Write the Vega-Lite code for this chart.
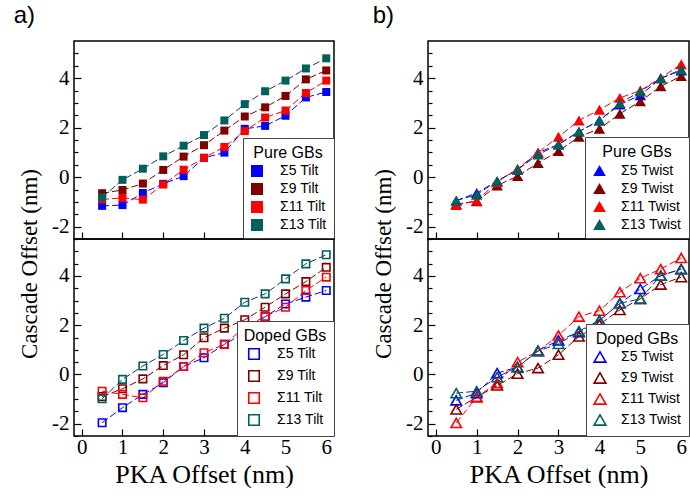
{
  "$schema": "https://vega.github.io/schema/vega-lite/v6.json",
  "padding": {"left": 13, "top": 4, "right": 0, "bottom": 0},
  "background": "white",
  "config": {
    "view": {"stroke": "black", "strokeWidth": 1.5},
    "axis": {"domain": false, "grid": false, "tickColor": "black", "tickWidth": 1.2, "minExtent": 0, "labelOverlap": false},
    "axisY": {"labelOverlap": false},
    "axisX": {"labelOverlap": false}
  },
  "datasets": {
    "tiltPure": [
      {"x": 0.5, "y": -1.16, "s": "Σ5 Tilt"}, {"x": 1.0, "y": -1.13, "s": "Σ5 Tilt"}, {"x": 1.5, "y": -0.64, "s": "Σ5 Tilt"}, {"x": 2.0, "y": -0.27, "s": "Σ5 Tilt"}, {"x": 2.5, "y": 0.04, "s": "Σ5 Tilt"}, {"x": 3.0, "y": 0.78, "s": "Σ5 Tilt"}, {"x": 3.5, "y": 0.99, "s": "Σ5 Tilt"}, {"x": 4.0, "y": 1.95, "s": "Σ5 Tilt"}, {"x": 4.5, "y": 2.07, "s": "Σ5 Tilt"}, {"x": 5.0, "y": 2.48, "s": "Σ5 Tilt"}, {"x": 5.5, "y": 3.22, "s": "Σ5 Tilt"}, {"x": 6.0, "y": 3.44, "s": "Σ5 Tilt"},
      {"x": 0.5, "y": -0.65, "s": "Σ9 Tilt"}, {"x": 1.0, "y": -0.52, "s": "Σ9 Tilt"}, {"x": 1.5, "y": -0.26, "s": "Σ9 Tilt"}, {"x": 2.0, "y": 0.29, "s": "Σ9 Tilt"}, {"x": 2.5, "y": 0.83, "s": "Σ9 Tilt"}, {"x": 3.0, "y": 1.29, "s": "Σ9 Tilt"}, {"x": 3.5, "y": 1.88, "s": "Σ9 Tilt"}, {"x": 4.0, "y": 2.45, "s": "Σ9 Tilt"}, {"x": 4.5, "y": 2.82, "s": "Σ9 Tilt"}, {"x": 5.0, "y": 3.28, "s": "Σ9 Tilt"}, {"x": 5.5, "y": 3.95, "s": "Σ9 Tilt"}, {"x": 6.0, "y": 4.31, "s": "Σ9 Tilt"},
      {"x": 0.5, "y": -0.9, "s": "Σ11 Tilt"}, {"x": 1.0, "y": -0.84, "s": "Σ11 Tilt"}, {"x": 1.5, "y": -0.91, "s": "Σ11 Tilt"}, {"x": 2.0, "y": -0.3, "s": "Σ11 Tilt"}, {"x": 2.5, "y": 0.3, "s": "Σ11 Tilt"}, {"x": 3.0, "y": 0.78, "s": "Σ11 Tilt"}, {"x": 3.5, "y": 1.22, "s": "Σ11 Tilt"}, {"x": 4.0, "y": 1.86, "s": "Σ11 Tilt"}, {"x": 4.5, "y": 2.41, "s": "Σ11 Tilt"}, {"x": 5.0, "y": 2.69, "s": "Σ11 Tilt"}, {"x": 5.5, "y": 3.4, "s": "Σ11 Tilt"}, {"x": 6.0, "y": 3.9, "s": "Σ11 Tilt"},
      {"x": 0.5, "y": -0.82, "s": "Σ13 Tilt"}, {"x": 1.0, "y": -0.11, "s": "Σ13 Tilt"}, {"x": 1.5, "y": 0.34, "s": "Σ13 Tilt"}, {"x": 2.0, "y": 0.84, "s": "Σ13 Tilt"}, {"x": 2.5, "y": 1.27, "s": "Σ13 Tilt"}, {"x": 3.0, "y": 1.7, "s": "Σ13 Tilt"}, {"x": 3.5, "y": 2.29, "s": "Σ13 Tilt"}, {"x": 4.0, "y": 2.95, "s": "Σ13 Tilt"}, {"x": 4.5, "y": 3.47, "s": "Σ13 Tilt"}, {"x": 5.0, "y": 3.9, "s": "Σ13 Tilt"}, {"x": 5.5, "y": 4.39, "s": "Σ13 Tilt"}, {"x": 6.0, "y": 4.8, "s": "Σ13 Tilt"}
    ],
    "tiltDoped": [
      {"x": 0.5, "y": -1.96, "s": "Σ5 Tilt"}, {"x": 1.0, "y": -1.35, "s": "Σ5 Tilt"}, {"x": 1.5, "y": -0.81, "s": "Σ5 Tilt"}, {"x": 2.0, "y": -0.34, "s": "Σ5 Tilt"}, {"x": 2.5, "y": 0.32, "s": "Σ5 Tilt"}, {"x": 3.0, "y": 0.68, "s": "Σ5 Tilt"}, {"x": 3.5, "y": 1.22, "s": "Σ5 Tilt"}, {"x": 4.0, "y": 1.69, "s": "Σ5 Tilt"}, {"x": 4.5, "y": 2.35, "s": "Σ5 Tilt"}, {"x": 5.0, "y": 2.86, "s": "Σ5 Tilt"}, {"x": 5.5, "y": 3.14, "s": "Σ5 Tilt"}, {"x": 6.0, "y": 3.41, "s": "Σ5 Tilt"},
      {"x": 0.5, "y": -0.9, "s": "Σ9 Tilt"}, {"x": 1.0, "y": -0.58, "s": "Σ9 Tilt"}, {"x": 1.5, "y": -0.18, "s": "Σ9 Tilt"}, {"x": 2.0, "y": 0.36, "s": "Σ9 Tilt"}, {"x": 2.5, "y": 0.8, "s": "Σ9 Tilt"}, {"x": 3.0, "y": 1.49, "s": "Σ9 Tilt"}, {"x": 3.5, "y": 1.88, "s": "Σ9 Tilt"}, {"x": 4.0, "y": 2.22, "s": "Σ9 Tilt"}, {"x": 4.5, "y": 2.73, "s": "Σ9 Tilt"}, {"x": 5.0, "y": 3.27, "s": "Σ9 Tilt"}, {"x": 5.5, "y": 3.77, "s": "Σ9 Tilt"}, {"x": 6.0, "y": 4.35, "s": "Σ9 Tilt"},
      {"x": 0.5, "y": -0.68, "s": "Σ11 Tilt"}, {"x": 1.0, "y": -0.81, "s": "Σ11 Tilt"}, {"x": 1.5, "y": -0.95, "s": "Σ11 Tilt"}, {"x": 2.0, "y": -0.28, "s": "Σ11 Tilt"}, {"x": 2.5, "y": 0.32, "s": "Σ11 Tilt"}, {"x": 3.0, "y": 0.88, "s": "Σ11 Tilt"}, {"x": 3.5, "y": 1.22, "s": "Σ11 Tilt"}, {"x": 4.0, "y": 1.92, "s": "Σ11 Tilt"}, {"x": 4.5, "y": 2.35, "s": "Σ11 Tilt"}, {"x": 5.0, "y": 2.73, "s": "Σ11 Tilt"}, {"x": 5.5, "y": 3.41, "s": "Σ11 Tilt"}, {"x": 6.0, "y": 3.95, "s": "Σ11 Tilt"},
      {"x": 0.5, "y": -0.99, "s": "Σ13 Tilt"}, {"x": 1.0, "y": -0.2, "s": "Σ13 Tilt"}, {"x": 1.5, "y": 0.34, "s": "Σ13 Tilt"}, {"x": 2.0, "y": 0.81, "s": "Σ13 Tilt"}, {"x": 2.5, "y": 1.38, "s": "Σ13 Tilt"}, {"x": 3.0, "y": 1.88, "s": "Σ13 Tilt"}, {"x": 3.5, "y": 2.28, "s": "Σ13 Tilt"}, {"x": 4.0, "y": 2.93, "s": "Σ13 Tilt"}, {"x": 4.5, "y": 3.27, "s": "Σ13 Tilt"}, {"x": 5.0, "y": 3.88, "s": "Σ13 Tilt"}, {"x": 5.5, "y": 4.49, "s": "Σ13 Tilt"}, {"x": 6.0, "y": 4.86, "s": "Σ13 Tilt"}
    ],
    "twistPure": [
      {"x": 0.5, "y": -0.95, "s": "Σ5 Twist"}, {"x": 1.0, "y": -0.64, "s": "Σ5 Twist"}, {"x": 1.5, "y": -0.16, "s": "Σ5 Twist"}, {"x": 2.0, "y": 0.3, "s": "Σ5 Twist"}, {"x": 2.5, "y": 0.99, "s": "Σ5 Twist"}, {"x": 3.0, "y": 1.32, "s": "Σ5 Twist"}, {"x": 3.5, "y": 1.84, "s": "Σ5 Twist"}, {"x": 4.0, "y": 2.29, "s": "Σ5 Twist"}, {"x": 4.5, "y": 2.93, "s": "Σ5 Twist"}, {"x": 5.0, "y": 3.31, "s": "Σ5 Twist"}, {"x": 5.5, "y": 3.99, "s": "Σ5 Twist"}, {"x": 6.0, "y": 4.31, "s": "Σ5 Twist"},
      {"x": 0.5, "y": -1.09, "s": "Σ9 Twist"}, {"x": 1.0, "y": -0.98, "s": "Σ9 Twist"}, {"x": 1.5, "y": -0.34, "s": "Σ9 Twist"}, {"x": 2.0, "y": 0.04, "s": "Σ9 Twist"}, {"x": 2.5, "y": 0.57, "s": "Σ9 Twist"}, {"x": 3.0, "y": 1.05, "s": "Σ9 Twist"}, {"x": 3.5, "y": 1.63, "s": "Σ9 Twist"}, {"x": 4.0, "y": 1.95, "s": "Σ9 Twist"}, {"x": 4.5, "y": 2.56, "s": "Σ9 Twist"}, {"x": 5.0, "y": 3.06, "s": "Σ9 Twist"}, {"x": 5.5, "y": 3.67, "s": "Σ9 Twist"}, {"x": 6.0, "y": 4.08, "s": "Σ9 Twist"},
      {"x": 0.5, "y": -1.13, "s": "Σ11 Twist"}, {"x": 1.0, "y": -0.95, "s": "Σ11 Twist"}, {"x": 1.5, "y": -0.2, "s": "Σ11 Twist"}, {"x": 2.0, "y": 0.34, "s": "Σ11 Twist"}, {"x": 2.5, "y": 0.99, "s": "Σ11 Twist"}, {"x": 3.0, "y": 1.63, "s": "Σ11 Twist"}, {"x": 3.5, "y": 2.29, "s": "Σ11 Twist"}, {"x": 4.0, "y": 2.72, "s": "Σ11 Twist"}, {"x": 4.5, "y": 3.2, "s": "Σ11 Twist"}, {"x": 5.0, "y": 3.5, "s": "Σ11 Twist"}, {"x": 5.5, "y": 4.01, "s": "Σ11 Twist"}, {"x": 6.0, "y": 4.56, "s": "Σ11 Twist"},
      {"x": 0.5, "y": -0.95, "s": "Σ13 Twist"}, {"x": 1.0, "y": -0.71, "s": "Σ13 Twist"}, {"x": 1.5, "y": -0.16, "s": "Σ13 Twist"}, {"x": 2.0, "y": 0.3, "s": "Σ13 Twist"}, {"x": 2.5, "y": 0.91, "s": "Σ13 Twist"}, {"x": 3.0, "y": 1.32, "s": "Σ13 Twist"}, {"x": 3.5, "y": 1.84, "s": "Σ13 Twist"}, {"x": 4.0, "y": 2.29, "s": "Σ13 Twist"}, {"x": 4.5, "y": 2.99, "s": "Σ13 Twist"}, {"x": 5.0, "y": 3.46, "s": "Σ13 Twist"}, {"x": 5.5, "y": 3.99, "s": "Σ13 Twist"}, {"x": 6.0, "y": 4.35, "s": "Σ13 Twist"}
    ],
    "twistDoped": [
      {"x": 0.5, "y": -1.05, "s": "Σ5 Twist"}, {"x": 1.0, "y": -0.76, "s": "Σ5 Twist"}, {"x": 1.5, "y": 0.05, "s": "Σ5 Twist"}, {"x": 2.0, "y": 0.3, "s": "Σ5 Twist"}, {"x": 2.5, "y": 0.97, "s": "Σ5 Twist"}, {"x": 3.0, "y": 1.38, "s": "Σ5 Twist"}, {"x": 3.5, "y": 1.72, "s": "Σ5 Twist"}, {"x": 4.0, "y": 2.19, "s": "Σ5 Twist"}, {"x": 4.5, "y": 2.89, "s": "Σ5 Twist"}, {"x": 5.0, "y": 3.47, "s": "Σ5 Twist"}, {"x": 5.5, "y": 4.01, "s": "Σ5 Twist"}, {"x": 6.0, "y": 4.28, "s": "Σ5 Twist"},
      {"x": 0.5, "y": -1.42, "s": "Σ9 Twist"}, {"x": 1.0, "y": -0.92, "s": "Σ9 Twist"}, {"x": 1.5, "y": -0.45, "s": "Σ9 Twist"}, {"x": 2.0, "y": 0.03, "s": "Σ9 Twist"}, {"x": 2.5, "y": 0.26, "s": "Σ9 Twist"}, {"x": 3.0, "y": 0.8, "s": "Σ9 Twist"}, {"x": 3.5, "y": 1.54, "s": "Σ9 Twist"}, {"x": 4.0, "y": 2.03, "s": "Σ9 Twist"}, {"x": 4.5, "y": 2.62, "s": "Σ9 Twist"}, {"x": 5.0, "y": 3.07, "s": "Σ9 Twist"}, {"x": 5.5, "y": 3.65, "s": "Σ9 Twist"}, {"x": 6.0, "y": 3.95, "s": "Σ9 Twist"},
      {"x": 0.5, "y": -1.97, "s": "Σ11 Twist"}, {"x": 1.0, "y": -0.92, "s": "Σ11 Twist"}, {"x": 1.5, "y": -0.35, "s": "Σ11 Twist"}, {"x": 2.0, "y": 0.5, "s": "Σ11 Twist"}, {"x": 2.5, "y": 0.95, "s": "Σ11 Twist"}, {"x": 3.0, "y": 1.58, "s": "Σ11 Twist"}, {"x": 3.5, "y": 2.35, "s": "Σ11 Twist"}, {"x": 4.0, "y": 2.59, "s": "Σ11 Twist"}, {"x": 4.5, "y": 3.34, "s": "Σ11 Twist"}, {"x": 5.0, "y": 3.91, "s": "Σ11 Twist"}, {"x": 5.5, "y": 4.28, "s": "Σ11 Twist"}, {"x": 6.0, "y": 4.73, "s": "Σ11 Twist"},
      {"x": 0.5, "y": -0.76, "s": "Σ13 Twist"}, {"x": 1.0, "y": -0.68, "s": "Σ13 Twist"}, {"x": 1.5, "y": -0.11, "s": "Σ13 Twist"}, {"x": 2.0, "y": 0.3, "s": "Σ13 Twist"}, {"x": 2.5, "y": 0.95, "s": "Σ13 Twist"}, {"x": 3.0, "y": 1.24, "s": "Σ13 Twist"}, {"x": 3.5, "y": 1.76, "s": "Σ13 Twist"}, {"x": 4.0, "y": 2.19, "s": "Σ13 Twist"}, {"x": 4.5, "y": 2.89, "s": "Σ13 Twist"}, {"x": 5.0, "y": 3.07, "s": "Σ13 Twist"}, {"x": 5.5, "y": 4.01, "s": "Σ13 Twist"}, {"x": 6.0, "y": 4.28, "s": "Σ13 Twist"}
    ]
  },
  "hconcat": [
    {
      "title": {"text": "a)", "anchor": "start", "frame": "bounds", "font": "Liberation Sans", "fontSize": 24, "fontWeight": "normal", "color": "black", "offset": 12, "dx": -5},
      "vconcat": [
        {
          "title": {"text": "Cascade Offset (nm)", "orient": "left", "anchor": "middle", "font": "Liberation Serif", "fontSize": 23, "fontWeight": "normal", "color": "black", "offset": 9},
          "spacing": 0,
          "bounds": "flush",
          "vconcat": [
            {
              "width": 260, "height": 198,
              "data": {"name": "tiltPure"},
              "layer": [
                {
                  "mark": {"type": "line", "strokeDash": [7, 3], "strokeWidth": 1},
                  "encoding": {
                    "x": {"field": "x", "type": "quantitative", "scale": {"domain": [-0.19, 6.19], "nice": false, "zero": false}, "axis": {"title": null, "labels": false, "labelOverlap": false, "values": [0, 0.5, 1, 1.5, 2, 2.5, 3, 3.5, 4, 4.5, 5, 5.5, 6], "tickSize": {"condition": {"test": "datum.value % 1 === 0", "value": -7}, "value": -4}}},
                    "y": {"field": "y", "type": "quantitative", "scale": {"domain": [-2.5, 5.5], "nice": false, "zero": false}, "axis": {"title": null, "labelOverlap": false, "labelFont": "Liberation Serif", "labelFontSize": 21, "labelColor": "black", "values": [-2, -2.5, 0, -1.5, 2, -1, 4, -0.5, 0.5, 1, 1.5, 2.5, 3, 3.5, 4.5, 5], "labelExpr": "datum.value % 2 === 0 ? '' + datum.value : ''", "labelPadding": 12, "tickSize": {"condition": {"test": "datum.value % 2 === 0", "value": -7}, "value": -4}}},
                    "stroke": {"field": "s", "type": "nominal", "scale": {"domain": ["Σ13 Tilt", "Σ11 Tilt", "Σ9 Tilt", "Σ5 Tilt"], "range": ["#1C2F80", "#FF0000", "#800000", "#0000FF"]}, "legend": null}
                  }
                },
                {
                  "mark": {"type": "point", "shape": "square", "filled": true, "size": 64, "opacity": 1},
                  "encoding": {
                    "x": {"field": "x", "type": "quantitative"},
                    "y": {"field": "y", "type": "quantitative", "axis": {"title": null, "labelOverlap": false, "labelFont": "Liberation Serif", "labelFontSize": 21, "labelColor": "black", "values": [-2, -2.5, 0, -1.5, 2, -1, 4, -0.5, 0.5, 1, 1.5, 2.5, 3, 3.5, 4.5, 5], "labelExpr": "datum.value % 2 === 0 ? '' + datum.value : ''", "labelPadding": 12, "tickSize": {"condition": {"test": "datum.value % 2 === 0", "value": -7}, "value": -4}}},
                    "color": {"field": "s", "type": "nominal", "scale": {"domain": ["Σ5 Tilt", "Σ9 Tilt", "Σ11 Tilt", "Σ13 Tilt"], "range": ["#0000FF", "#800000", "#FF0000", "#00615B"]}, "legend": {"title": "Pure GBs", "orient": "bottom-right", "offset": 0, "strokeColor": "#444", "fillColor": "white", "padding": 7, "titleAnchor": "middle", "titleFont": "Liberation Sans", "titleFontSize": 16, "titleFontWeight": "normal", "titleColor": "black", "labelFont": "Liberation Sans", "labelFontSize": 14, "labelColor": "black", "symbolType": "square", "symbolSize": 144, "rowPadding": 4, "labelOffset": 16, "titlePadding": 3}}
                  }
                }
              ]
            },
            {
              "width": 260, "height": 197,
              "data": {"name": "tiltDoped"},
              "layer": [
                {
                  "mark": {"type": "line", "strokeDash": [7, 3], "strokeWidth": 1},
                  "encoding": {
                    "x": {"field": "x", "type": "quantitative", "scale": {"domain": [-0.19, 6.19], "nice": false, "zero": false}, "axis": {"title": "PKA Offset (nm)", "titleFont": "Liberation Serif", "titleFontSize": 26, "titleFontWeight": "normal", "titleColor": "black", "labelOverlap": false, "labelFont": "Liberation Serif", "labelFontSize": 21, "labelColor": "black", "values": [0, 0.5, 1, 1.5, 2, 2.5, 3, 3.5, 4, 4.5, 5, 5.5, 6], "labelExpr": "datum.value % 1 === 0 ? '' + datum.value : ''", "labelPadding": 7, "titlePadding": 4, "tickSize": {"condition": {"test": "datum.value % 1 === 0", "value": -7}, "value": -4}}},
                    "y": {"field": "y", "type": "quantitative", "scale": {"domain": [-2.5, 5.5], "nice": false, "zero": false}, "axis": {"title": null, "labelOverlap": false, "labelFont": "Liberation Serif", "labelFontSize": 21, "labelColor": "black", "values": [-2, -2.5, 0, -1.5, 2, -1, 4, -0.5, 0.5, 1, 1.5, 2.5, 3, 3.5, 4.5, 5], "labelExpr": "datum.value % 2 === 0 ? '' + datum.value : ''", "labelPadding": 12, "tickSize": {"condition": {"test": "datum.value % 2 === 0", "value": -7}, "value": -4}}},
                    "stroke": {"field": "s", "type": "nominal", "scale": {"domain": ["Σ13 Tilt", "Σ11 Tilt", "Σ9 Tilt", "Σ5 Tilt"], "range": ["#1C2F80", "#FF0000", "#800000", "#0000FF"]}, "legend": null}
                  }
                },
                {
                  "mark": {"type": "point", "shape": "square", "filled": false, "size": 56, "strokeWidth": 1.6, "opacity": 1},
                  "encoding": {
                    "x": {"field": "x", "type": "quantitative"},
                    "y": {"field": "y", "type": "quantitative", "axis": {"title": null, "labelOverlap": false, "labelFont": "Liberation Serif", "labelFontSize": 21, "labelColor": "black", "values": [-2, -2.5, 0, -1.5, 2, -1, 4, -0.5, 0.5, 1, 1.5, 2.5, 3, 3.5, 4.5, 5], "labelExpr": "datum.value % 2 === 0 ? '' + datum.value : ''", "labelPadding": 12, "tickSize": {"condition": {"test": "datum.value % 2 === 0", "value": -7}, "value": -4}}},
                    "color": {"field": "s", "type": "nominal", "scale": {"domain": ["Σ5 Tilt", "Σ9 Tilt", "Σ11 Tilt", "Σ13 Tilt"], "range": ["#0000FF", "#800000", "#FF0000", "#00615B"]}, "legend": {"title": "Doped GBs", "orient": "bottom-right", "offset": 0, "strokeColor": "#444", "fillColor": "white", "padding": 7, "titleAnchor": "middle", "titleFont": "Liberation Sans", "titleFontSize": 16, "titleFontWeight": "normal", "titleColor": "black", "labelFont": "Liberation Sans", "labelFontSize": 14, "labelColor": "black", "symbolType": "square", "symbolSize": 110, "symbolStrokeWidth": 1.6, "rowPadding": 4, "labelOffset": 16, "titlePadding": 3}}
                  }
                }
              ]
            }
          ],
          "resolve": {"scale": {"color": "independent", "stroke": "independent"}, "legend": {"color": "independent", "stroke": "independent"}}
        }
      ],
      "resolve": {"scale": {"color": "independent", "stroke": "independent"}, "legend": {"color": "independent", "stroke": "independent"}}
    },
    {
      "title": {"text": "b)", "anchor": "start", "frame": "bounds", "font": "Liberation Sans", "fontSize": 24, "fontWeight": "normal", "color": "black", "offset": 12},
      "vconcat": [
        {
          "title": {"text": "Cascade Offset (nm)", "orient": "left", "anchor": "middle", "font": "Liberation Serif", "fontSize": 23, "fontWeight": "normal", "color": "black", "offset": 9},
          "spacing": 0,
          "bounds": "flush",
          "vconcat": [
            {
              "width": 261, "height": 198,
              "data": {"name": "twistPure"},
              "layer": [
                {
                  "mark": {"type": "line", "strokeDash": [7, 3], "strokeWidth": 1},
                  "encoding": {
                    "x": {"field": "x", "type": "quantitative", "scale": {"domain": [-0.19, 6.19], "nice": false, "zero": false}, "axis": {"title": null, "labels": false, "labelOverlap": false, "values": [0, 0.5, 1, 1.5, 2, 2.5, 3, 3.5, 4, 4.5, 5, 5.5, 6], "tickSize": {"condition": {"test": "datum.value % 1 === 0", "value": -7}, "value": -4}}},
                    "y": {"field": "y", "type": "quantitative", "scale": {"domain": [-2.5, 5.5], "nice": false, "zero": false}, "axis": {"title": null, "labelOverlap": false, "labelFont": "Liberation Serif", "labelFontSize": 21, "labelColor": "black", "values": [-2, -2.5, 0, -1.5, 2, -1, 4, -0.5, 0.5, 1, 1.5, 2.5, 3, 3.5, 4.5, 5], "labelExpr": "datum.value % 2 === 0 ? '' + datum.value : ''", "labelPadding": 12, "tickSize": {"condition": {"test": "datum.value % 2 === 0", "value": -7}, "value": -4}}},
                    "stroke": {"field": "s", "type": "nominal", "scale": {"domain": ["Σ13 Twist", "Σ11 Twist", "Σ9 Twist", "Σ5 Twist"], "range": ["#1C2F80", "#FF0000", "#800000", "#0000FF"]}, "legend": null}
                  }
                },
                {
                  "mark": {"type": "point", "shape": "triangle-up", "filled": true, "size": 130, "opacity": 1},
                  "encoding": {
                    "x": {"field": "x", "type": "quantitative"},
                    "y": {"field": "y", "type": "quantitative", "axis": {"title": null, "labelOverlap": false, "labelFont": "Liberation Serif", "labelFontSize": 21, "labelColor": "black", "values": [-2, -2.5, 0, -1.5, 2, -1, 4, -0.5, 0.5, 1, 1.5, 2.5, 3, 3.5, 4.5, 5], "labelExpr": "datum.value % 2 === 0 ? '' + datum.value : ''", "labelPadding": 12, "tickSize": {"condition": {"test": "datum.value % 2 === 0", "value": -7}, "value": -4}}},
                    "color": {"field": "s", "type": "nominal", "scale": {"domain": ["Σ5 Twist", "Σ9 Twist", "Σ11 Twist", "Σ13 Twist"], "range": ["#0000FF", "#800000", "#FF0000", "#00615B"]}, "legend": {"title": "Pure GBs", "orient": "bottom-right", "offset": 0, "strokeColor": "#444", "fillColor": "white", "padding": 7, "titleAnchor": "middle", "titleFont": "Liberation Sans", "titleFontSize": 16, "titleFontWeight": "normal", "titleColor": "black", "labelFont": "Liberation Sans", "labelFontSize": 14, "labelColor": "black", "symbolType": "triangle-up", "symbolSize": 160, "rowPadding": 3, "labelOffset": 14, "titlePadding": 3}}
                  }
                }
              ]
            },
            {
              "width": 261, "height": 197,
              "data": {"name": "twistDoped"},
              "layer": [
                {
                  "mark": {"type": "line", "strokeDash": [7, 3], "strokeWidth": 1},
                  "encoding": {
                    "x": {"field": "x", "type": "quantitative", "scale": {"domain": [-0.19, 6.19], "nice": false, "zero": false}, "axis": {"title": "PKA Offset (nm)", "titleFont": "Liberation Serif", "titleFontSize": 26, "titleFontWeight": "normal", "titleColor": "black", "labelOverlap": false, "labelFont": "Liberation Serif", "labelFontSize": 21, "labelColor": "black", "values": [0, 0.5, 1, 1.5, 2, 2.5, 3, 3.5, 4, 4.5, 5, 5.5, 6], "labelExpr": "datum.value % 1 === 0 ? '' + datum.value : ''", "labelPadding": 7, "titlePadding": 4, "tickSize": {"condition": {"test": "datum.value % 1 === 0", "value": -7}, "value": -4}}},
                    "y": {"field": "y", "type": "quantitative", "scale": {"domain": [-2.5, 5.5], "nice": false, "zero": false}, "axis": {"title": null, "labelOverlap": false, "labelFont": "Liberation Serif", "labelFontSize": 21, "labelColor": "black", "values": [-2, -2.5, 0, -1.5, 2, -1, 4, -0.5, 0.5, 1, 1.5, 2.5, 3, 3.5, 4.5, 5], "labelExpr": "datum.value % 2 === 0 ? '' + datum.value : ''", "labelPadding": 12, "tickSize": {"condition": {"test": "datum.value % 2 === 0", "value": -7}, "value": -4}}},
                    "stroke": {"field": "s", "type": "nominal", "scale": {"domain": ["Σ13 Twist", "Σ11 Twist", "Σ9 Twist", "Σ5 Twist"], "range": ["#1C2F80", "#FF0000", "#800000", "#0000FF"]}, "legend": null}
                  }
                },
                {
                  "mark": {"type": "point", "shape": "triangle-up", "filled": false, "size": 110, "strokeWidth": 1.6, "opacity": 1},
                  "encoding": {
                    "x": {"field": "x", "type": "quantitative"},
                    "y": {"field": "y", "type": "quantitative", "axis": {"title": null, "labelOverlap": false, "labelFont": "Liberation Serif", "labelFontSize": 21, "labelColor": "black", "values": [-2, -2.5, 0, -1.5, 2, -1, 4, -0.5, 0.5, 1, 1.5, 2.5, 3, 3.5, 4.5, 5], "labelExpr": "datum.value % 2 === 0 ? '' + datum.value : ''", "labelPadding": 12, "tickSize": {"condition": {"test": "datum.value % 2 === 0", "value": -7}, "value": -4}}},
                    "color": {"field": "s", "type": "nominal", "scale": {"domain": ["Σ5 Twist", "Σ9 Twist", "Σ11 Twist", "Σ13 Twist"], "range": ["#0000FF", "#800000", "#FF0000", "#00615B"]}, "legend": {"title": "Doped GBs", "orient": "bottom-right", "offset": 0, "strokeColor": "#444", "fillColor": "white", "padding": 7, "titleAnchor": "middle", "titleFont": "Liberation Sans", "titleFontSize": 16, "titleFontWeight": "normal", "titleColor": "black", "labelFont": "Liberation Sans", "labelFontSize": 14, "labelColor": "black", "symbolType": "triangle-up", "symbolSize": 140, "symbolStrokeWidth": 1.6, "rowPadding": 3, "labelOffset": 14, "titlePadding": 3}}
                  }
                }
              ]
            }
          ],
          "resolve": {"scale": {"color": "independent", "stroke": "independent"}, "legend": {"color": "independent", "stroke": "independent"}}
        }
      ],
      "resolve": {"scale": {"color": "independent", "stroke": "independent"}, "legend": {"color": "independent", "stroke": "independent"}}
    }
  ],
  "spacing": 36,
  "resolve": {"scale": {"color": "independent", "stroke": "independent"}, "legend": {"color": "independent", "stroke": "independent"}}
}
